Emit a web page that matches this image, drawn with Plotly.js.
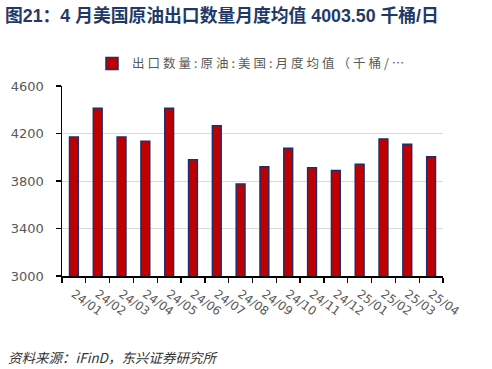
<!DOCTYPE html>
<html><head><meta charset="utf-8">
<script src="https://cdn.plot.ly/plotly-3.0.1.min.js"></script>
<style>html,body{margin:0;padding:0;background:#fff}#chart{width:492px;height:369px}
.legendtext{letter-spacing:3px}</style>
</head><body><div id="chart"></div>
<script>
const categories = ["24/01","24/02","24/03","24/04","24/05","24/06","24/07","24/08","24/09","24/10","24/11","24/12","25/01","25/02","25/03","25/04"];
const exportValues = [4171, 4412, 4171, 4134, 4412, 3979, 4266, 3774, 3920, 4075, 3911, 3889, 3942, 4153, 4109, 4003.5];
const seriesName = "出口数量:原油:美国:月度均值（千桶/…";
const titleText = "<b>图21：4 月美国原油出口数量月度均值 4003.50 千桶/日</b>";
const sourceText = "<i>资料来源：iFinD，东兴证券研究所</i>";
const yTicks = [3000, 3400, 3800, 4200, 4600];

const trace = {
  type: "bar", x: categories, y: exportValues, name: seriesName,
  marker: {color: "#C00000", line: {color: "#1F2D6B", width: 1.5}},
  showlegend: true
};
const layout = {
  width: 492, height: 369,
  margin: {l: 62, r: 49, t: 86, b: 93},
  paper_bgcolor: "#fff", plot_bgcolor: "#fff",
  bargap: 0.63,
  title: {text: titleText, x: 5/492, xanchor: "left", xref: "container", y: 1 - 16/369, yanchor: "middle", yref: "container",
    font: {family: "Liberation Sans, Noto Sans CJK SC", size: 17.8, color: "#1F3A68"}},
  showlegend: true,
  legend: {orientation: "h", x: (92-62)/381, xanchor: "left", y: 1.116, yanchor: "middle", itemwidth: 30,
    font: {family: "Noto Sans CJK SC", size: 12.5, color: "#595959"}, bgcolor: "rgba(0,0,0,0)"},
  xaxis: {type: "category", tickson: "boundaries", ticks: "outside", ticklen: 5, tickcolor: "#000", tickwidth: 1.3,
    showline: true, linecolor: "#000", linewidth: 1.5, showgrid: false, tickangle: 36, ticklabelstandoff: 5,
    tickfont: {family: "DejaVu Sans", size: 12, color: "#595959"}},
  yaxis: {range: [3000, 4600], tickvals: yTicks, ticks: "outside", ticklen: 5, tickcolor: "#000", tickwidth: 1.3,
    showline: true, linecolor: "#000", linewidth: 1.5, showgrid: true, gridcolor: "#D9D9D9", gridwidth: 1,
    zeroline: false, ticklabelstandoff: 9, tickfont: {family: "DejaVu Sans", size: 13, color: "#595959"}},
  annotations: [{text: sourceText, xref: "paper", yref: "paper", x: (6-62)/381, y: (276-357)/190, xanchor: "left", yanchor: "middle",
    showarrow: false, font: {family: "Noto Sans CJK SC", size: 13.5, color: "#333"}}]
};
Plotly.newPlot("chart", [trace], layout, {displayModeBar: false, staticPlot: true});
</script></body></html>
